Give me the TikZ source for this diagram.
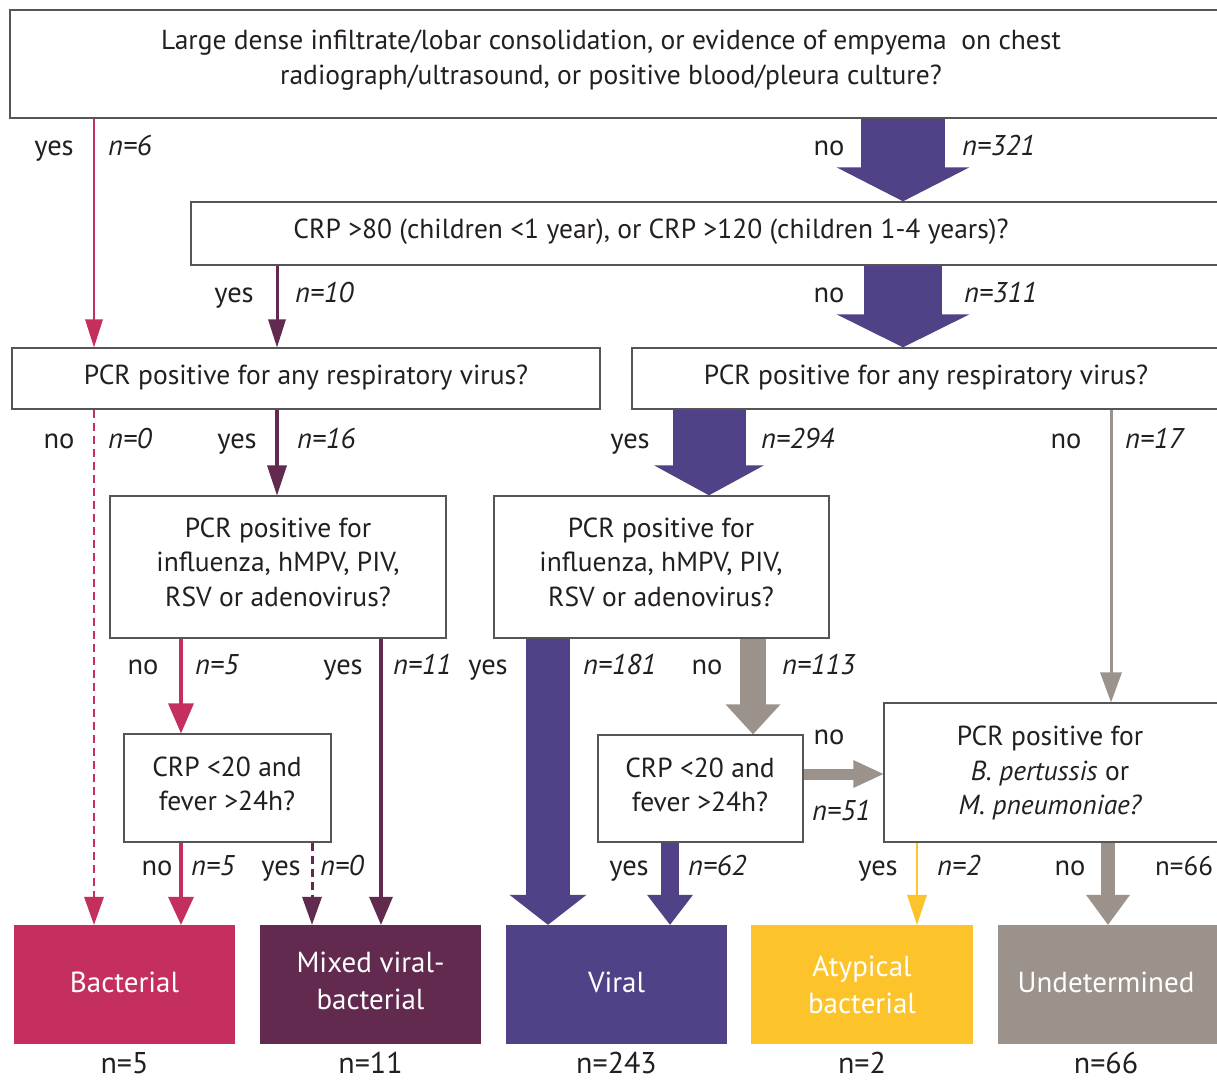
\documentclass[tikz,border=0pt]{standalone}
\usepackage{fontspec}
\setmainfont{PT Sans}
\usetikzlibrary{calc,fit}
\definecolor{cbact}{HTML}{C52F5E}
\definecolor{cmix}{HTML}{632A50}
\definecolor{cvir}{HTML}{514288}
\definecolor{catyp}{HTML}{FCC42A}
\definecolor{cund}{HTML}{9B928B}
\definecolor{boxline}{HTML}{555555}
\definecolor{ink}{HTML}{231F20}
\tikzset{
  box/.style={draw=boxline, line width=1.4pt, fill=white, inner sep=0pt},
  outbox/.style={draw=none, inner sep=0pt},
  txt/.style={font=\fontsize{27.5}{34.5}\selectfont, align=center, inner sep=0pt, text=ink},
  outtxt/.style={font=\fontsize{29}{37}\selectfont, align=center, inner sep=0pt, text=white},
  lab/.style={font=\fontsize{28.5}{30}\selectfont, inner sep=0pt, anchor=base, text=ink},
  nlab/.style={font=\fontsize{28.5}{30}\selectfont\itshape, inner sep=0pt, anchor=base west, text=ink},
  nulab/.style={font=\fontsize{27}{30}\selectfont, inner sep=0pt, anchor=base west, text=ink},
  total/.style={font=\fontsize{30}{32}\selectfont, inner sep=0pt, anchor=base, text=ink},
  dashline/.style={dash pattern=on 8pt off 5pt},
}
% #1 from, #2 to, #3 shaft width, #4 head width, #5 head length, #6 colour/options
\newcommand\downarr[6]{%
  \fill[#6] ($(#2)+(-#4/2,-#5)$) -- (#2) -- ($(#2)+(#4/2,-#5)$) -- cycle;
  \draw[#6, line width=#3] (#1) -- ($(#2)+(0,-#5+0.5)$);
}
\begin{document}
\begin{tikzpicture}[x=1pt,y=-1pt]
\clip (0,0) rectangle (1217,1081);
\fill[white] (0,0) rectangle (1217,1081);

% column coordinates
\coordinate (c94) at (94,0);
\coordinate (c181) at (181,0);
\coordinate (c277) at (277,0);
\coordinate (c312) at (312,0);
\coordinate (c381) at (381,0);
\coordinate (c548) at (548,0);
\coordinate (c670) at (670,0);
\coordinate (c709) at (709,0);
\coordinate (c753) at (753,0);
\coordinate (c903) at (903,0);
\coordinate (c917) at (917,0);
\coordinate (c1108) at (1108,0);
\coordinate (c1111) at (1111,0);
\coordinate (r774) at (0,774);

% question boxes
\node[box, fit={(10,10) (1232,118)}] (top) {};
\node[box, fit={(191,202) (1232,265)}] (crp) {};
\node[box, fit={(12,348) (600,409)}] (pcrL) {};
\node[box, fit={(632,348) (1232,409)}] (pcrR) {};
\node[box, fit={(110,496) (446,638)}] (virL) {};
\node[box, fit={(494,496) (829,638)}] (virM) {};
\node[box, fit={(124,734) (331,842)}] (crpL) {};
\node[box, fit={(598,735) (803,842)}] (crpM) {};
\node[box, fit={(884,703) (1232,842)}] (atq) {};

% outcome boxes
\node[outbox, fill=cbact, fit={(14,925) (235,1044)}] (bact) {};
\node[outbox, fill=cmix, fit={(260,925) (481,1044)}] (mixed) {};
\node[outbox, fill=cvir, fit={(506,925) (727,1044)}] (viral) {};
\node[outbox, fill=catyp, fit={(751,925) (973,1044)}] (atyp) {};
\node[outbox, fill=cund, fit={(998,925) (1232,1044)}] (undet) {};

% texts
\node[txt] (topT) at (611,60) {Large dense infiltrate/lobar consolidation, or evidence of empyema\ \ on chest\\radiograph/ultrasound, or positive blood/pleura culture?};
\node[txt] (crpT) at (651,232) {CRP >80 (children <1 year), or CRP >120 (children 1-4 years)?};
\node[txt] (pcrLT) at (306,378) {PCR positive for any respiratory virus?};
\node[txt] (pcrRT) at (926,378) {PCR positive for any respiratory virus?};
\node[txt] (virLT) at (278,562) {PCR positive for\\influenza, hMPV, PIV,\\RSV or adenovirus?};
\node[txt] (virMT) at (661,562) {PCR positive for\\influenza, hMPV, PIV,\\RSV or adenovirus?};
\node[txt] (crpLT) at (227,784) {CRP <20 and\\fever >24h?};
\node[txt] (crpMT) at (700,785) {CRP <20 and\\fever >24h?};
\node[txt] (atqT) at (1050,773) {PCR positive for\\{\itshape B. pertussis} or\\{\itshape M. pneumoniae?}};

\node[outtxt] (bactT) at (124.5,982) {Bacterial};
\node[outtxt] (mixedT) at (370.5,981) {Mixed viral-\\bacterial};
\node[outtxt] (viralT) at (616.5,982) {Viral};
\node[outtxt] (atypT) at (862,985) {Atypical\\bacterial};
\node[outtxt] (undetT) at (1106,982) {Undetermined};

\node[total] (nb) at (124.5,1073) {n=5};
\node[total] (nm) at (370.5,1073) {n=11};
\node[total] (nv) at (616.5,1073) {n=243};
\node[total] (na) at (862,1073) {n=2};
\node[total] (nu) at (1106,1073) {n=66};

% connectors
\downarr{top.south -| c94}{pcrL.north -| c94}{2.5}{18}{28}{cbact}
\downarr{crp.south -| c277}{pcrL.north -| c277}{3}{18}{28}{cmix}
\downarr{top.south -| c903}{crp.north -| c903}{84}{133}{34}{cvir}
\downarr{crp.south -| c903}{pcrR.north -| c903}{78}{133}{33}{cvir}

\fill[cbact] ($(bact.north -| c94)+(-10,-28)$) -- (bact.north -| c94) -- ($(bact.north -| c94)+(10,-28)$) -- cycle;
\draw[cbact, line width=2.5, dashline] (pcrL.south -| c94) -- ($(bact.north -| c94)+(0,-27.5)$);
\downarr{pcrL.south -| c277}{virL.north -| c277}{4}{20}{30}{cmix}
\downarr{pcrR.south -| c709}{virM.north -| c709}{73}{110}{30}{cvir}
\downarr{pcrR.south -| c1111}{atq.north -| c1111}{3}{22}{30}{cund}

\downarr{virL.south -| c181}{crpL.north -| c181}{3.5}{26}{30}{cbact}
\downarr{virL.south -| c381}{mixed.north -| c381}{4}{24}{28}{cmix}
\downarr{virM.south -| c548}{viral.north -| c548}{44}{77}{30}{cvir}
\downarr{virM.south -| c753}{crpM.north -| c753}{26}{55}{30}{cund}

\downarr{crpL.south -| c181}{bact.north -| c181}{3.5}{26}{28}{cbact}
\fill[cmix] ($(mixed.north -| c312)+(-10,-28)$) -- (mixed.north -| c312) -- ($(mixed.north -| c312)+(10,-28)$) -- cycle;
\draw[cmix, line width=3, dashline] (crpL.south -| c312) -- ($(mixed.north -| c312)+(0,-27.5)$);
\downarr{crpM.south -| c670}{viral.north -| c670}{18}{46}{30}{cvir}

% horizontal arrow crpM -> atq
\fill[cund] ($(atq.west |- r774)+(-30,-14)$) -- (atq.west |- r774) -- ($(atq.west |- r774)+(-30,14)$) -- cycle;
\draw[cund, line width=11] (crpM.east |- r774) -- ($(atq.west |- r774)+(-29.5,0)$);

\downarr{atq.south -| c917}{atyp.north -| c917}{2.5}{20}{30}{catyp}
\downarr{atq.south -| c1108}{undet.north -| c1108}{14}{44}{30}{cund}

% labels (baselines)
\node[lab] (l1) at (54,155) {yes};
\node[nlab] (l1n) at (108,155) {n=6};
\node[lab] (l2) at (829,155) {no};
\node[nlab] (l2n) at (962,155) {n=321};
\node[lab] (l3) at (234,302) {yes};
\node[nlab] (l3n) at (295,302) {n=10};
\node[lab] (l4) at (829,302) {no};
\node[nlab] (l4n) at (964,302) {n=311};
\node[lab] (l5) at (59,448) {no};
\node[nlab] (l5n) at (108,448) {n=0};
\node[lab] (l6) at (237,448) {yes};
\node[nlab] (l6n) at (297,448) {n=16};
\node[lab] (l7) at (630,448) {yes};
\node[nlab] (l7n) at (761,448) {n=294};
\node[lab] (l8) at (1066,448) {no};
\node[nlab] (l8n) at (1125,448) {n=17};
\node[lab] (l9) at (143,674) {no};
\node[nlab] (l9n) at (195,674) {n=5};
\node[lab] (l10) at (343,674) {yes};
\node[nlab] (l10n) at (393,674) {n=11};
\node[lab] (l11) at (488,674) {yes};
\node[nlab] (l11n) at (583,674) {n=181};
\node[lab] (l12) at (707,674) {no};
\node[nlab] (l12n) at (782,674) {n=113};
\node[lab] (l13) at (829,744) {no};
\node[nlab] (l13n) at (812,820) {n=51};
\node[lab] (l14) at (157,875) {no};
\node[nlab] (l14n) at (191,875) {n=5};
\node[lab] (l15) at (281,875) {yes};
\node[nlab] (l15n) at (320,875) {n=0};
\node[lab] (l16) at (629,875) {yes};
\node[nlab] (l16n) at (688,875) {n=62};
\node[lab] (l17) at (878,875) {yes};
\node[nlab] (l17n) at (937,875) {n=2};
\node[lab] (l18) at (1070,875) {no};
\node[nulab] (l18n) at (1155,875) {n=66};
\end{tikzpicture}
\end{document}
